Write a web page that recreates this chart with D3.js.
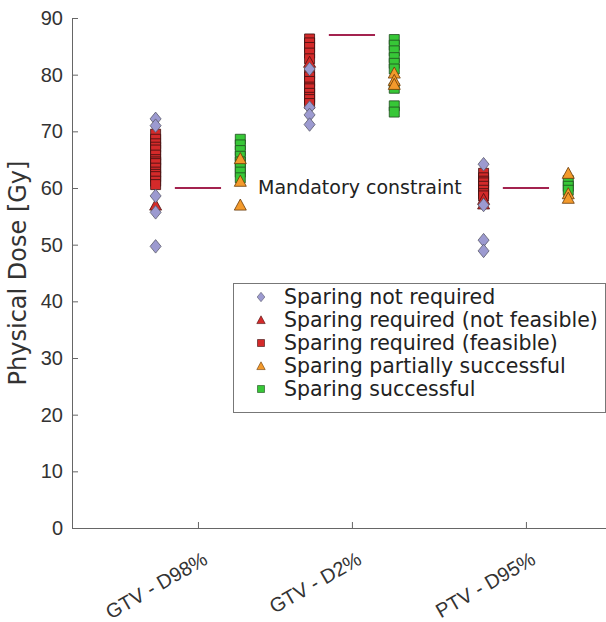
<!DOCTYPE html>
<html>
<head>
<meta charset="utf-8">
<script src="https://cdn.jsdelivr.net/npm/d3@7"></script>
<style>
  html, body { margin: 0; padding: 0; background: #fff; }
  svg { display: block; font-family: "DejaVu Sans", Verdana, sans-serif; }
</style>
</head>
<body>
<div id="chart"></div>
<script>
// ---------- Data ----------
const categories = ['GTV - D98%', 'GTV - D2%', 'PTV - D95%'];
const catPos = [1, 2, 3.13];            // x position of each metric (axis units)
const constraint = [60, 87, 60];         // mandatory constraint per metric [Gy]
const yTicks = [0, 10, 20, 30, 40, 50, 60, 70, 80, 90];

// left column: before sparing
const notRequired = [
  [72.2, 71.0, 58.6, 55.7, 49.7],
  [81.0, 74.2, 72.9, 71.2],
  [64.2, 57.0, 50.8, 48.9]
];
const reqNotFeasible = [
  [57.0],
  [82.2],
  [58.0, 57.2]
];
const reqFeasible = [
  [69.5, 68.6, 67.8, 67.2, 66.7, 65.8, 65.0, 64.6, 64.3, 63.5, 62.8, 62.4, 62.0, 61.2, 60.6],
  [86.3, 85.6, 84.8, 83.8, 82.8, 80.2, 79.6, 78.8, 77.8, 77.5, 76.7, 76.0, 75.6, 74.9],
  [62.6, 61.8, 61.2, 60.9, 60.3, 59.6, 59.0, 58.6]
];
// right column: after sparing
const partial = [
  [65.2, 61.2, 57.0],
  [80.3, 79.0, 78.3],
  [62.6, 59.0, 58.2]
];
const successful = [
  [68.6, 67.6, 66.6, 65.6, 64.6, 63.6, 62.8, 61.8],
  [86.2, 85.2, 84.2, 83.0, 82.0, 81.0, 77.6, 74.5, 73.4],
  [61.3, 60.3, 59.6]
];

// ---------- Layout ----------
const W = 606, H = 622;
const m = { l: 72, r: 0, t: 18, b: 94 };

const svg = d3.select('#chart').append('svg').attr('width', W).attr('height', H);

const x = d3.scaleLinear().domain([0.182, 3.65]).range([m.l, W - m.r]);
const y = d3.scaleLinear().domain([0, 90]).range([H - m.b, m.t]);
const colOffset = 0.275;   // left / right column shift
const lineHalf = 0.15;     // half width of constraint bar

const styles = {
  notRequired:    { shape: 'diamond',  fill: '#9c9ad0', stroke: '#5a5a6a' },
  reqNotFeasible: { shape: 'triangle', fill: '#d42a2a', stroke: '#4a1010' },
  reqFeasible:    { shape: 'square',   fill: '#d42a2a', stroke: '#3a1010' },
  partial:        { shape: 'triangle', fill: '#f39a2c', stroke: '#6a3a08' },
  successful:     { shape: 'square',   fill: '#37c737', stroke: '#1f4a1f' }
};

function markerPath(shape, cx, cy, s) {
  if (shape === 'square') {
    return `M${cx - s},${cy - s}H${cx + s}V${cy + s}H${cx - s}Z`;
  }
  if (shape === 'diamond') {
    const w = s * 1.1, h = s * 1.35;
    return `M${cx},${cy - h}L${cx + w},${cy}L${cx},${cy + h}L${cx - w},${cy}Z`;
  }
  // triangle (apex up)
  const w = s * 1.2, h = s * 1.2;
  return `M${cx},${cy - h}L${cx + w},${cy + h * 0.85}L${cx - w},${cy + h * 0.85}Z`;
}

// ---------- Axes ----------
const yAxis = d3.axisLeft(y).tickValues(yTicks).tickSizeInner(-6).tickSizeOuter(0).tickPadding(9);
const gy = svg.append('g').attr('transform', `translate(${m.l},0)`).call(yAxis);
gy.select('.domain').attr('stroke', '#666');
gy.selectAll('.tick line').attr('stroke', '#666');
gy.selectAll('.tick text').attr('fill', '#333').style('font-size', '20px');

const xAxis = d3.axisBottom(x).tickValues(catPos).tickSizeInner(-6).tickSizeOuter(0).tickFormat((d, i) => categories[i]);
const gx = svg.append('g').attr('transform', `translate(0,${H - m.b})`).call(xAxis);
gx.select('.domain').attr('stroke', '#666');
gx.selectAll('.tick line').attr('stroke', '#666');
gx.selectAll('.tick text')
  .attr('fill', '#333').style('font-size', '20px')
  .attr('text-anchor', 'end')
  .attr('x', 0).attr('y', 0).attr('dy', '0.75em')
  .attr('transform', 'translate(3,22) rotate(-30)');

svg.append('text')
  .attr('transform', `translate(26,${(m.t + H - m.b) / 2}) rotate(-90)`)
  .attr('text-anchor', 'middle')
  .attr('fill', '#333').style('font-size', '24px')
  .text('Physical Dose [Gy]');

// ---------- Constraint lines ----------
svg.append('g').selectAll('line').data(constraint).join('line')
  .attr('x1', (d, i) => x(catPos[i] - lineHalf))
  .attr('x2', (d, i) => x(catPos[i] + lineHalf))
  .attr('y1', d => y(d)).attr('y2', d => y(d))
  .attr('stroke', '#a3234f').attr('stroke-width', 2);

svg.append('text')
  .attr('x', x(catPos[0] + lineHalf) + 37).attr('y', y(constraint[0]) + 6)
  .attr('fill', '#222').style('font-size', '19px')
  .text('Mandatory constraint');

// ---------- Points ----------
const seriesOrder = [
  ['reqFeasible', reqFeasible, -1],
  ['reqNotFeasible', reqNotFeasible, -1],
  ['successful', successful, 1],
  ['partial', partial, 1],
  ['notRequired', notRequired, -1]
];

const gPts = svg.append('g');
seriesOrder.forEach(([key, data, side]) => {
  const st = styles[key];
  const pts = [];
  data.forEach((vals, i) => vals.forEach(v => pts.push({ cx: x(catPos[i] + side * colOffset), cy: y(v) })));
  gPts.append('g').selectAll('path').data(pts).join('path')
    .attr('d', d => markerPath(st.shape, d.cx, d.cy, 5))
    .attr('fill', st.fill).attr('stroke', st.stroke).attr('stroke-width', 0.8);
});

// ---------- Legend ----------
const legendItems = [
  ['notRequired', 'Sparing not required'],
  ['reqNotFeasible', 'Sparing required (not feasible)'],
  ['reqFeasible', 'Sparing required (feasible)'],
  ['partial', 'Sparing partially successful'],
  ['successful', 'Sparing successful']
];
const lg = svg.append('g');
lg.append('rect')
  .attr('x', 233.5).attr('y', 283.5).attr('width', 372).attr('height', 129)
  .attr('fill', '#fff').attr('stroke', '#777').attr('stroke-width', 1);
legendItems.forEach(([key, label], i) => {
  const cy = 297 + i * 23;
  const st = styles[key];
  lg.append('path')
    .attr('d', markerPath(st.shape, 261, cy, 3.5))
    .attr('fill', st.fill).attr('stroke', st.stroke).attr('stroke-width', 0.6);
  lg.append('text')
    .attr('x', 284).attr('y', cy + 7)
    .attr('fill', '#222').style('font-size', '20.5px')
    .text(label);
});
</script>
</body>
</html>
